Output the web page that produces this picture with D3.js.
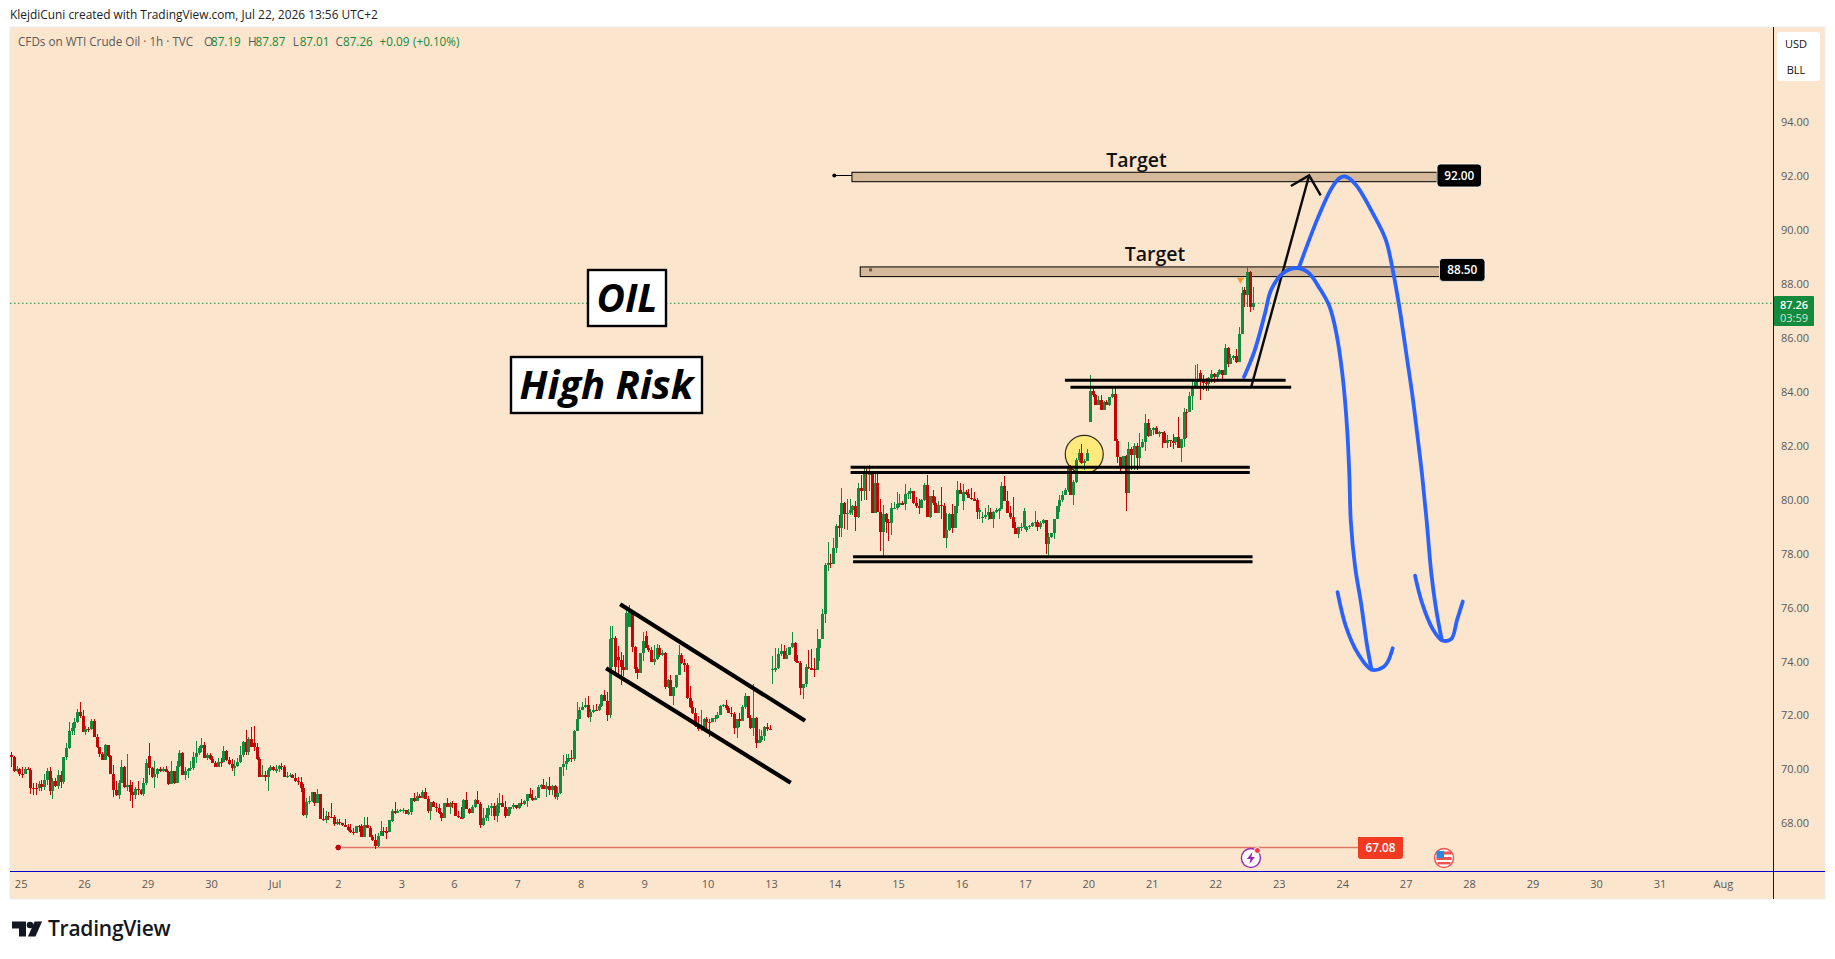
<!DOCTYPE html>
<html><head><meta charset="utf-8">
<script src="https://cdn.jsdelivr.net/npm/d3@7/dist/d3.min.js"></script>
<style>html,body{margin:0;padding:0;background:#fff}svg{display:block}text{font-family:"Open Sans",sans-serif}</style>
</head><body><svg id="c" width="1835" height="959"></svg>
<script>
// hourly candles, one entry per bar (open = previous close except for gapBars)
const closes = [
70.42,69.90,70.00,69.82,69.80,70.00,69.95,69.30,69.28,69.27,
69.42,69.33,69.58,69.92,69.16,69.55,69.35,69.77,69.50,70.43,
70.76,71.40,71.53,71.73,72.10,71.97,71.38,71.48,71.47,71.78,
71.19,70.79,70.56,70.34,70.88,70.49,69.82,69.23,69.01,69.48,
70.06,69.34,69.40,69.15,69.03,69.25,69.23,69.06,69.48,70.21,
70.02,69.71,69.82,70.00,69.90,70.00,69.87,69.45,69.92,69.48,
70.10,70.58,69.77,69.90,70.00,70.02,70.45,70.60,70.76,70.88,
70.41,70.50,70.38,70.23,70.08,70.26,70.24,70.65,70.33,70.17,
70.02,70.10,70.25,70.51,70.99,70.63,71.12,70.82,70.80,70.36,
69.71,69.77,69.70,69.96,70.08,69.96,69.98,70.10,70.08,69.68,
69.75,69.77,69.65,69.55,69.50,69.29,68.29,68.77,68.80,69.13,
68.72,69.07,68.15,68.10,68.25,68.22,68.20,67.95,68.02,68.00,
67.90,67.83,67.73,67.65,67.62,67.88,67.86,67.48,67.90,67.80,
67.46,67.34,67.14,67.51,67.71,67.68,67.66,68.10,68.45,68.35,
68.45,68.47,68.48,68.32,68.40,68.90,68.80,68.98,68.92,69.15,
68.88,68.45,68.75,68.59,68.55,68.35,68.17,68.72,68.57,68.74,
68.72,68.25,68.20,68.18,68.84,68.52,68.37,68.59,68.84,68.69,
67.92,68.17,68.28,68.55,68.62,68.25,68.65,68.73,68.59,68.25,
68.52,68.60,68.66,68.53,68.72,68.69,68.82,69.07,68.93,68.84,
68.90,69.34,69.41,69.25,69.36,69.21,69.36,68.94,69.09,70.05,
70.18,70.29,70.40,70.36,71.41,71.84,72.18,72.30,72.37,71.93,
72.12,72.18,72.17,72.33,72.73,72.52,71.99,74.81,74.84,73.79,
74.03,73.79,73.66,75.76,75.83,74.53,73.70,73.56,74.28,74.74,
74.49,74.40,73.97,74.06,74.48,74.21,74.28,73.02,73.29,72.70,
73.02,73.46,74.22,73.91,73.85,72.61,72.28,72.08,71.58,71.46,
71.56,71.84,71.75,71.74,71.87,71.89,72.00,72.33,72.36,72.24,
72.08,72.03,71.51,71.83,71.78,72.28,72.71,71.88,71.51,71.87,
70.97,71.07,71.23,71.56,71.48,71.44,73.70,73.72,74.26,74.37,
74.06,74.22,74.50,74.65,74.00,73.93,73.01,73.14,73.78,73.72,
73.69,73.68,74.47,74.81,75.73,77.55,77.62,77.60,78.20,79.00,
78.92,79.87,79.45,79.49,79.58,79.74,79.32,80.40,80.31,81.00,
80.92,80.95,79.47,80.58,79.53,78.79,79.45,79.16,79.10,79.66,
79.68,79.82,79.84,79.82,80.19,80.23,80.31,79.84,79.74,79.66,
79.97,80.52,79.32,80.11,79.84,79.50,79.78,79.74,78.57,78.85,
79.45,78.91,79.74,80.34,80.19,80.27,80.18,80.03,79.99,79.97,
79.53,79.60,79.35,79.40,79.53,79.28,79.53,79.60,79.62,80.48,
79.94,79.50,79.32,78.94,78.70,78.95,78.98,79.56,78.95,79.00,
79.10,79.16,78.97,79.10,79.22,78.33,78.60,78.73,79.26,79.74,
79.97,80.15,80.34,81.14,80.15,80.65,81.45,81.72,81.35,81.42,
81.72,84.01,83.86,83.49,83.68,83.31,83.61,83.49,83.78,83.90,
82.17,81.55,81.14,81.60,80.24,81.85,81.64,81.97,81.54,81.92,
82.13,82.81,82.34,82.56,82.63,82.42,82.50,82.46,82.09,82.19,
82.14,82.10,82.29,81.88,82.22,83.24,83.22,83.83,84.11,84.36,
84.42,84.44,84.32,84.27,84.48,84.64,84.52,84.64,84.79,84.60,
85.59,85.01,85.22,85.32,85.10,86.13,87.63,87.58,88.41,87.14,87.26];
const highs = [
70.61,70.48,70.12,70.02,70.08,70.05,70.05,70.02,69.46,69.46,
69.55,69.58,69.80,70.02,70.05,69.65,69.65,69.96,69.90,70.43,
70.95,71.75,71.69,71.88,72.22,72.47,72.18,71.60,71.56,71.85,
71.85,71.28,70.80,70.64,70.91,70.88,70.50,70.14,69.53,69.59,
70.33,70.12,70.54,69.58,69.50,69.34,69.55,69.25,69.65,70.37,
70.95,70.05,70.27,70.02,70.05,70.08,70.12,69.90,70.29,69.92,
70.29,70.68,70.62,70.08,70.02,70.29,70.61,71.03,70.85,71.13,
71.00,70.57,70.57,70.48,70.27,70.39,70.39,70.85,70.70,70.43,
70.35,70.33,70.39,70.85,71.04,71.44,71.19,71.54,71.59,70.94,
70.43,70.14,69.90,70.04,70.14,70.10,70.14,70.14,70.20,70.14,
69.89,69.86,69.80,69.83,69.68,69.71,69.44,68.91,69.00,69.13,
69.15,69.25,69.03,68.53,68.45,68.41,68.72,68.30,68.14,68.14,
68.00,68.14,67.95,67.95,67.79,67.88,67.92,67.95,68.20,68.20,
67.88,67.55,67.58,67.63,68.06,67.83,67.85,68.10,68.50,68.75,
68.50,68.50,68.53,68.47,68.50,68.90,69.09,69.12,69.06,69.21,
69.28,68.99,68.75,68.80,68.74,68.69,68.40,68.72,68.92,68.78,
68.80,68.66,68.45,68.59,68.87,69.14,68.54,68.65,68.89,69.16,
68.75,68.56,68.53,68.66,68.74,68.72,68.93,69.10,69.03,68.80,
68.57,68.60,68.72,68.66,68.74,68.89,68.84,69.07,69.29,69.21,
68.99,69.40,69.43,69.62,69.51,69.68,69.39,69.41,69.31,70.08,
70.51,70.55,70.55,70.70,71.44,72.46,72.30,72.49,72.61,72.70,
72.20,72.37,72.40,72.40,72.78,72.92,72.86,75.30,75.30,74.92,
74.55,74.34,74.22,76.04,76.07,75.83,74.55,73.79,74.28,75.08,
75.11,74.59,74.50,74.59,74.63,74.58,74.40,74.34,73.32,73.48,
73.02,73.46,74.59,74.28,74.06,73.93,73.07,72.51,72.24,71.95,
72.18,71.87,71.93,71.85,71.90,71.99,72.12,72.36,72.39,72.55,
72.33,72.28,72.12,71.83,72.05,72.36,72.80,72.70,71.99,73.13,
71.91,71.46,71.44,71.58,71.68,71.62,74.18,74.47,74.47,74.63,
74.59,74.47,74.50,75.06,74.71,74.22,74.01,73.14,73.87,74.40,
74.43,74.10,75.17,74.81,75.91,77.62,78.42,77.95,78.55,79.07,
79.40,80.40,79.90,80.00,80.00,79.78,79.94,80.58,80.89,81.14,
81.23,81.26,80.99,80.95,80.95,79.99,79.78,79.50,79.28,79.87,
79.90,80.25,80.20,79.93,80.55,80.30,80.40,80.27,80.08,79.99,
79.99,80.58,80.89,80.11,80.34,80.09,79.93,80.46,79.84,79.47,
79.47,79.82,79.74,80.67,80.58,80.56,80.34,80.36,80.40,80.27,
80.03,79.68,79.53,79.68,79.78,79.66,79.57,79.68,79.66,80.64,
80.86,80.30,79.74,80.09,79.16,78.97,79.10,79.66,79.02,79.05,
79.14,79.56,79.22,79.20,79.25,79.19,78.75,78.75,79.26,79.74,
80.15,80.30,80.42,81.23,81.26,80.71,81.51,81.84,82.04,81.47,
81.84,84.60,84.11,83.90,83.83,83.86,83.65,83.68,83.78,84.20,
84.15,82.22,81.55,81.60,81.64,82.10,81.92,82.07,82.07,82.44,
82.23,83.16,82.96,82.65,82.69,82.71,82.54,82.50,82.54,82.38,
82.19,82.42,82.32,83.06,82.22,83.37,83.33,83.96,84.42,84.97,
85.01,84.79,84.60,84.48,84.52,84.79,84.67,84.70,84.82,84.79,
85.75,85.63,85.38,85.35,85.56,86.40,87.86,87.88,88.60,88.46,87.87];
const lows = [
70.05,69.87,69.87,69.75,69.65,69.82,69.95,69.08,69.03,69.03,
69.16,69.18,69.22,69.40,69.03,68.88,69.34,69.24,69.28,69.43,
70.33,70.74,71.26,71.26,71.69,71.90,71.36,71.26,71.38,71.44,
71.19,70.76,70.45,70.33,70.33,70.45,69.80,68.97,69.00,68.88,
69.46,69.30,69.16,68.81,68.56,68.88,69.03,69.03,69.00,69.40,
69.77,69.67,69.30,69.65,69.87,69.87,69.87,69.40,69.47,69.45,
69.48,70.07,69.77,69.59,69.67,69.92,69.96,70.21,70.50,70.64,
70.41,70.33,70.33,70.23,70.05,70.08,70.08,70.29,70.30,70.14,
69.93,69.75,70.08,70.20,70.45,70.51,70.51,70.82,70.66,70.33,
69.71,69.71,69.56,69.19,69.93,69.93,69.86,69.89,69.96,69.68,
69.65,69.68,69.65,69.52,69.40,69.15,68.25,68.19,68.70,68.75,
68.62,68.72,68.15,68.08,68.00,68.10,68.16,67.89,67.92,67.92,
67.88,67.83,67.71,67.63,67.55,67.67,67.67,67.46,67.46,67.79,
67.46,67.33,67.03,67.09,67.51,67.51,67.41,67.66,68.03,68.32,
68.35,68.40,68.35,68.32,68.29,68.29,68.77,68.80,68.90,68.92,
68.88,68.37,68.10,68.59,68.41,68.32,68.07,68.20,68.57,68.32,
68.56,68.25,68.16,68.17,68.14,68.52,68.32,68.37,68.55,68.69,
67.81,67.87,68.07,68.07,68.25,68.10,68.04,68.37,68.57,68.16,
68.25,68.32,68.52,68.50,68.50,68.62,68.65,68.60,68.92,68.80,
68.88,68.92,69.24,69.25,68.95,69.03,69.01,68.89,68.84,69.06,
69.73,69.95,70.25,70.25,70.30,71.41,71.84,72.18,72.24,71.90,
71.75,72.08,72.13,72.16,72.28,72.52,71.78,71.87,73.79,73.44,
73.35,73.11,73.44,73.70,75.24,74.34,73.54,73.33,73.56,74.00,
74.47,74.34,73.96,73.85,74.03,74.13,74.20,72.97,72.98,72.70,
72.36,72.98,73.48,73.87,73.60,72.59,72.24,72.03,71.56,71.41,
71.41,71.50,71.50,71.19,71.72,71.72,71.84,72.05,72.28,72.18,
72.05,71.93,71.29,71.15,71.56,71.84,72.20,71.87,71.49,71.23,
70.76,70.97,71.00,71.04,71.41,71.42,73.14,73.60,73.71,74.18,
74.06,74.18,74.22,74.46,73.97,73.93,72.74,72.59,73.04,73.70,
73.66,73.42,73.71,74.00,74.81,75.39,77.34,77.43,77.75,78.00,
78.58,78.58,78.90,78.85,79.41,79.41,78.83,79.30,79.93,79.97,
79.95,80.31,79.47,79.50,79.53,78.07,77.83,78.73,78.45,78.67,
79.62,79.59,79.70,79.80,79.59,80.00,79.99,79.82,79.66,79.45,
79.66,79.94,79.32,79.30,79.78,79.47,79.52,79.28,78.55,78.20,
78.83,78.75,78.91,79.50,80.19,79.60,80.15,80.03,79.97,79.96,
79.25,79.25,79.13,79.28,79.22,79.26,78.91,79.47,79.28,79.62,
79.94,79.50,79.28,78.91,78.70,78.57,78.83,78.88,78.79,78.88,
78.95,78.95,78.80,78.90,79.07,77.95,77.91,78.57,78.51,79.25,
79.53,79.90,80.15,80.28,80.15,79.78,80.61,81.39,81.32,81.08,
81.42,82.87,83.80,83.49,83.52,83.31,83.31,83.49,83.47,83.76,
82.17,81.35,80.93,81.14,79.57,80.24,81.08,81.08,81.08,81.20,
81.88,81.80,82.32,82.42,82.38,82.42,82.29,81.91,82.07,81.88,
81.92,81.85,82.00,81.88,81.39,81.95,82.25,83.24,83.31,84.07,
84.07,83.68,84.05,84.02,84.00,84.32,84.32,84.45,84.60,84.44,
84.60,84.91,85.01,85.15,85.06,85.10,86.13,87.14,87.14,86.92,87.01];
const gapBars  = [0,    50,   88,   138,  220,  224,  230,  276,  345,  352,  368,  391,  431,  447];
const gapOpens = [70.52,70.47,70.94,68.06,74.13,75.24,74.92,73.66,79.93,79.33,78.86,82.87,84.69,87.74];

const priceTicks = [68,70,72,74,76,78,80,82,84,86,88,90,92,94];
const dayBars   = [4,27,50,73,96,119,142,161,184,207,230,253,276,299,322,345,368,391,414,437,460,483,506,529,552,575,598,621];
const dayLabels = ["25","26","29","30","Jul","2","3","6","7","8","9","10","13","14","15","16","17","20","21","22","23","24","27","28","29","30","31","Aug"];

const lastPrice = 87.26;
const supportPrice = 67.08;
const targetLevels = [92.00, 88.50];
const targetBands = [[304.8,516.9,92.12,91.77],[307.8,518.6,88.61,88.25]];
const flagLines = [[220.8,76.10,287.8,71.78],[215.7,73.73,282.6,69.48]];
const thickLines = [
 [304.3,81.18,449,81.18],[304.3,80.99,449,80.99],
 [305.2,77.86,450,77.86],[305.2,77.68,450,77.68],
 [382,84.41,462,84.41],[384,84.15,464,84.15]];
const bluePath1 = [[446.9,84.53],[450.7,85.49],[454.5,86.88],[456.7,87.75],[460.9,88.37],[466,88.57],[470.2,88.40],[474.4,87.80],[477.9,87.14],[480.4,86.14],[482.6,84.60],[484.3,82.58],[485.1,80.85],[485.6,79.20],[487.2,77.46],[489.3,76.16],[491.4,74.64],[493.1,73.68]];
const blueHook1 = [[480.8,76.55],[483.8,75.29],[488.1,74.29],[493.1,73.68],[497.4,73.77],[499.1,73.99],[500.8,74.47]];
const bluePath2 = [[466.9,88.61],[473.6,90.41],[478.6,91.52],[481.6,91.91],[483.8,91.96],[487.5,91.65],[494,90.52],[498.3,89.61],[501,88.40],[503.4,87.00],[505.9,85.27],[508,83.80],[509.8,82.32],[511.5,80.85],[513.1,79.20],[514.8,77.24],[516.5,75.94],[518.6,74.77]];
const blueHook2 = [[508.9,77.16],[511.4,76.16],[515.2,75.20],[518.6,74.77],[522,74.81],[524.1,75.51],[526.2,76.20]];
const arrowShaft = [[449.6,84.19],[470.5,92.00]];
const arrowHead  = [[463.9,91.61],[470.5,92.00],[474.7,91.26]];

const UP = "#138a3c", DOWN = "#c40606", BLUE = "#2962ff", AXIS = "#0000d0", BG = "#fce5cd", GRAY = "#5a5a5a";
const L = 10, R = 1825, T = 27, B = 899, AX = 1773, AY = 872;

const svg = d3.select("#c");
const x = d3.scaleLinear().domain([0, 650]).range([11, 11 + 650 * 2.759]);
const y = d3.scaleLinear().domain([68, 92]).range([822.7, 175.5]);

// frame
svg.append("rect").attr("x", L).attr("y", T).attr("width", R - L).attr("height", B - T).attr("fill", BG).attr("stroke", "#ececec");
svg.append("defs").append("clipPath").attr("id", "pane").append("rect").attr("x", L).attr("y", T).attr("width", AX - L).attr("height", AY - T);
const pane = svg.append("g").attr("clip-path", "url(#pane)");

svg.append("text").attr("x", 10).attr("y", 18.5).attr("font-size", 11.9).attr("fill", "#222").text("KlejdiCuni created with TradingView.com, Jul 22, 2026 13:56 UTC+2");

// header
const headerParts = [[18, "CFDs on WTI Crude Oil · 1h · TVC", GRAY],[204, "O", GRAY],[211, "87.19", UP],[248, "H", GRAY],[255.6, "87.87", UP],[292.8, "L", GRAY],[299.7, "87.01", UP],[335.6, "C", GRAY],[343, "87.26", UP],[379.6, "+0.09", UP],[413, "(+0.10%)", UP]];
svg.append("g").selectAll("text").data(headerParts).join("text")
  .attr("x", d => d[0]).attr("y", 45.5).attr("font-size", 11.7).attr("fill", d => d[2]).text(d => d[1]);

// yellow circle
pane.append("circle").attr("cx", x(389)).attr("cy", y(81.66)).attr("r", 19).attr("fill", "#fde97c").attr("stroke", "#2f2a1c").attr("stroke-width", 1.2);

// last-price dotted line
pane.append("line").attr("x1", L).attr("x2", AX).attr("y1", y(lastPrice)).attr("y2", y(lastPrice)).attr("stroke", UP).attr("stroke-width", 1.1).attr("stroke-dasharray", "1.5 2.5");

// target bands
const bands = pane.append("g");
targetBands.forEach(b => {
  bands.append("rect").attr("x", x(b[0])).attr("width", x(b[1]) - x(b[0])).attr("y", y(b[2])).attr("height", y(b[3]) - y(b[2])).attr("fill", "#d6b89a").attr("stroke", "#000").attr("stroke-width", 1);
});
pane.append("line").attr("x1", x(298.4)).attr("x2", x(304.8)).attr("y1", y(92)).attr("y2", y(92)).attr("stroke", "#000");
pane.append("circle").attr("cx", x(298.4)).attr("cy", y(92)).attr("r", 2).attr("fill", "#000");
pane.append("rect").attr("x", x(311)).attr("y", y(88.5) - 1.5).attr("width", 3).attr("height", 3).attr("fill", "#6d5a47");

// support line
pane.append("line").attr("x1", x(118.6)).attr("x2", 1358).attr("y1", y(supportPrice)).attr("y2", y(supportPrice)).attr("stroke", "#e07766").attr("stroke-width", 1.6);
pane.append("circle").attr("cx", x(118.6)).attr("cy", y(supportPrice)).attr("r", 3.4).attr("fill", "#c40606").attr("stroke", "#fff").attr("stroke-width", 1);

// candles
const candles = closes.map((c, i) => {
  const g = gapBars.indexOf(i);
  return { i, c, h: highs[i], l: lows[i], o: g >= 0 ? gapOpens[g] : closes[i - 1] };
});
const cg = pane.append("g").attr("shape-rendering", "crispEdges");
cg.selectAll("line").data(candles).join("line")
  .attr("x1", d => Math.round(x(d.i)) + 0.5).attr("x2", d => Math.round(x(d.i)) + 0.5)
  .attr("y1", d => y(Math.max(d.h, d.o, d.c))).attr("y2", d => y(Math.min(d.l, d.o, d.c)))
  .attr("stroke", d => d.c >= d.o ? UP : DOWN).attr("stroke-width", 1);
cg.selectAll("rect").data(candles).join("rect")
  .attr("x", d => Math.round(x(d.i)) - 1).attr("width", 3)
  .attr("y", d => y(Math.max(d.o, d.c))).attr("height", d => Math.max(1.2, Math.abs(y(d.o) - y(d.c))))
  .attr("fill", d => d.c >= d.o ? UP : DOWN);

// orange marker
const ox = x(445.6), oy = y(88.10);
pane.append("path").attr("d", d3.line()([[ox - 3.5, oy - 3], [ox + 3.5, oy - 3], [ox, oy + 3]]) + "Z").attr("fill", "#f79a2e");

// thick drawn lines
pane.append("g").selectAll("line").data(thickLines).join("line")
  .attr("x1", d => x(d[0])).attr("y1", d => y(d[1])).attr("x2", d => x(d[2])).attr("y2", d => y(d[3]))
  .attr("stroke", "#000").attr("stroke-width", 3);
pane.append("g").selectAll("line").data(flagLines).join("line")
  .attr("x1", d => x(d[0])).attr("y1", d => y(d[1])).attr("x2", d => x(d[2])).attr("y2", d => y(d[3]))
  .attr("stroke", "#000").attr("stroke-width", 4.2);

// arrow and curves
const ln = d3.line().x(d => x(d[0])).y(d => y(d[1]));
const smooth = d3.line().x(d => x(d[0])).y(d => y(d[1])).curve(d3.curveCatmullRom.alpha(0.5));
pane.append("path").attr("d", ln(arrowShaft)).attr("fill", "none").attr("stroke", "#0a0a0a").attr("stroke-width", 2.4);
pane.append("path").attr("d", ln(arrowHead)).attr("fill", "none").attr("stroke", "#0a0a0a").attr("stroke-width", 2.4);
[bluePath1, blueHook1, bluePath2, blueHook2].forEach(p => {
  pane.append("path").attr("d", smooth(p)).attr("fill", "none").attr("stroke", BLUE).attr("stroke-width", 3.8).attr("stroke-linecap", "round").attr("stroke-linejoin", "round");
});

// Target texts
[[1136.5, 167], [1155, 261]].forEach(t => {
  svg.append("text").attr("x", t[0]).attr("y", t[1]).attr("text-anchor", "middle").attr("font-size", 19.5).attr("font-weight", 600).attr("fill", "#111").text("Target");
});

// boxed titles
function boxed(txt, x0, y0, w, h, fs) {
  svg.append("rect").attr("x", x0).attr("y", y0).attr("width", w).attr("height", h).attr("fill", "#fff").attr("stroke", "#000").attr("stroke-width", 2.4);
  svg.append("text").attr("x", x0 + w / 2).attr("y", y0 + h / 2 + fs * 0.35).attr("text-anchor", "middle")
    .attr("font-size", fs).attr("font-weight", 700).attr("font-style", "italic").attr("fill", "#000").text(txt);
}
boxed("OIL", 588, 270, 78, 56, 39);
boxed("High Risk", 511, 357, 191, 56, 40);

// target value tags
const tagG = svg.append("g");
[[1437, 92.00, 44.5], [1439.5, 88.50, 45.5]].forEach((t, i) => {
  tagG.append("rect").attr("x", t[0]).attr("y", y(targetLevels[i]) - 11.5).attr("width", t[2]).attr("height", 23).attr("rx", 3.5).attr("fill", "#000").attr("stroke", "#fff").attr("stroke-width", 0.8);
  tagG.append("text").attr("x", t[0] + t[2] / 2).attr("y", y(targetLevels[i]) + 4).attr("text-anchor", "middle").attr("font-size", 11.8).attr("font-weight", 600).attr("fill", "#fff").text(d3.format(".2f")(targetLevels[i]));
});

// support tag
svg.append("path").attr("d", "M1358 837h45v19a3 3 0 0 1-3 3h-39a3 3 0 0 1-3-3z").attr("fill", "#f23a22");
svg.append("text").attr("x", 1380.5).attr("y", y(supportPrice) + 4).attr("text-anchor", "middle").attr("font-size", 11.8).attr("font-weight", 600).attr("fill", "#fff").text(d3.format(".2f")(supportPrice));

// event icons
const e1 = x(449.4), e2 = x(519.4), ey = 858;
svg.append("circle").attr("cx", e1).attr("cy", ey).attr("r", 9.5).attr("fill", "#fff").attr("stroke", "#9c27b0").attr("stroke-width", 1.4);
svg.append("path").attr("transform", `translate(${e1},${ey})`).attr("d", "M1.5-6L-4 1H-.5L-1.5 6L4-1H.5Z").attr("fill", "#9c27b0");
svg.append("circle").attr("cx", e1 + 6.5).attr("cy", ey - 7.5).attr("r", 3).attr("fill", "#f23645").attr("stroke", "#fff");
svg.append("circle").attr("cx", e2).attr("cy", ey).attr("r", 9.5).attr("fill", "#fff").attr("stroke", "#ef5350").attr("stroke-width", 1.4);
svg.append("rect").attr("x", e2 - 7.5).attr("y", ey - 6.5).attr("width", 15).attr("height", 3).attr("fill", "#ef5350");
svg.append("rect").attr("x", e2 - 7.5).attr("y", ey - 1).attr("width", 15).attr("height", 3).attr("fill", "#ef5350");
svg.append("rect").attr("x", e2 - 6.5).attr("y", ey + 4).attr("width", 13).attr("height", 2.4).attr("fill", "#ef5350");
svg.append("rect").attr("x", e2 - 7.5).attr("y", ey - 7).attr("width", 7.5).attr("height", 7).attr("fill", "#2e86de");

// axis lines
svg.append("line").attr("x1", AX + .5).attr("x2", AX + .5).attr("y1", T).attr("y2", B).attr("stroke", AXIS).attr("stroke-width", 1);
svg.append("line").attr("x1", L).attr("x2", R).attr("y1", AY - .5).attr("y2", AY - .5).attr("stroke", AXIS).attr("stroke-width", 1);

// price axis
const py = svg.append("g").attr("transform", "translate(1795,0.6)")
  .call(d3.axisRight(y).tickValues(priceTicks).tickSize(0).tickPadding(0).tickFormat(d3.format(".2f")));
py.select(".domain").remove();
py.selectAll("text").attr("text-anchor", "middle").attr("font-family", '"Open Sans",sans-serif').attr("font-size", 11).attr("fill", GRAY);

// time axis
const px = svg.append("g").attr("transform", `translate(-1.4,${AY + 8})`)
  .call(d3.axisBottom(x).tickValues(dayBars).tickSize(0).tickPadding(0).tickFormat((d, i) => dayLabels[i]));
px.select(".domain").remove();
px.selectAll("text").attr("font-family", '"Open Sans",sans-serif').attr("font-size", 11).attr("fill", GRAY);

// last price tag
svg.append("rect").attr("x", 1774).attr("y", 296).attr("width", 40).attr("height", 30).attr("rx", 1).attr("fill", UP);
svg.append("text").attr("x", 1794).attr("y", 309).attr("text-anchor", "middle").attr("font-size", 11).attr("font-weight", 600).attr("fill", "#fff").text(d3.format(".2f")(lastPrice));
svg.append("text").attr("x", 1794).attr("y", 322).attr("text-anchor", "middle").attr("font-size", 11).attr("fill", "#cfe8d6").text("03:59");

// currency box
svg.append("rect").attr("x", 1777).attr("y", 32).attr("width", 43).attr("height", 49).attr("rx", 3).attr("fill", "#fff");
svg.append("text").attr("x", 1796).attr("y", 47.5).attr("text-anchor", "middle").attr("font-size", 11).attr("fill", "#111").text("USD");
svg.append("text").attr("x", 1796).attr("y", 73.5).attr("text-anchor", "middle").attr("font-size", 11).attr("fill", "#111").text("BLL");

// logo
const logo = svg.append("g").attr("fill", "#131722");
logo.append("path").attr("d", "M12 921.5h14v15h-7v-8h-7z");
logo.append("circle").attr("cx", 30).attr("cy", 925).attr("r", 3.3);
logo.append("path").attr("d", "M34.5 921.5h7.5l-6.5 15h-7.5z");
svg.append("text").attr("x", 48).attr("y", 936).attr("font-family", "Inter,sans-serif").attr("font-size", 21).attr("font-weight", 600).attr("letter-spacing", "-0.25").attr("fill", "#131722").text("TradingView");
</script></body></html>
